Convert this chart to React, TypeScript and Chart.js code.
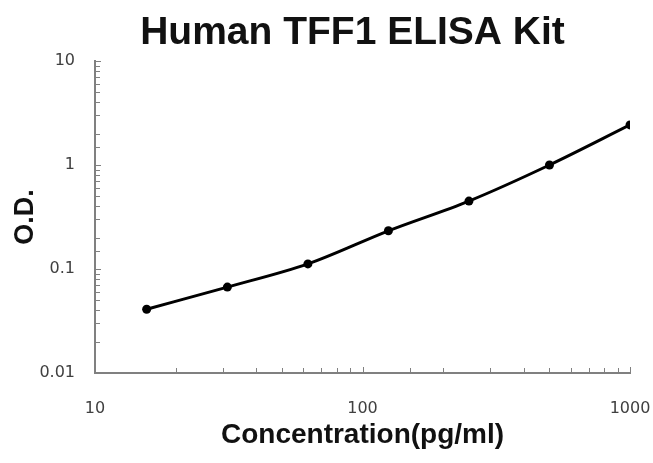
import { useEffect, useRef } from 'react';
import { Chart, registerables } from 'chart.js';

Chart.register(...registerables);

const concentrations = [15.6, 31.25, 62.5, 125, 250, 500, 1000];
const odValues = [0.041, 0.067, 0.112, 0.233, 0.45, 1.0, 2.43];
const xTickLabels = [10, 100, 1000];
const yTickLabels = [0.01, 0.1, 1, 10];
const titleText = 'Human TFF1 ELISA Kit';
const xTitle = 'Concentration(pg/ml)';
const yTitle = 'O.D.';

const isLabelled = (v: number, list: number[]) =>
  list.some((l) => Math.abs(v - l) / l < 1e-6);

const titlePlugin = {
  id: 'customTitle',
  afterDraw(chart: any) {
    const { ctx, chartArea } = chart;
    ctx.save();
    ctx.font = 'bold 39px "Liberation Sans", Arial, sans-serif';
    ctx.fillStyle = '#111';
    ctx.textAlign = 'center';
    ctx.textBaseline = 'middle';
    ctx.fillText(titleText, (chartArea.left + chartArea.right) / 2 - 10, 33);
    ctx.restore();
  },
};

const innerTicksPlugin = {
  id: 'innerTicks',
  afterDraw(chart: any) {
    const { ctx, chartArea } = chart;
    const xs = chart.scales.x;
    const ys = chart.scales.y;
    ctx.save();
    ctx.strokeStyle = '#808080';
    ctx.lineWidth = 1;
    xs.ticks.forEach((t: any) => {
      const px = Math.round(xs.getPixelForValue(t.value)) + 0.5;
      const len = isLabelled(t.value, xTickLabels) ? 6 : 5;
      ctx.beginPath();
      ctx.moveTo(px, chartArea.bottom);
      ctx.lineTo(px, chartArea.bottom - len);
      ctx.stroke();
    });
    ys.ticks.forEach((t: any) => {
      const py = Math.round(ys.getPixelForValue(t.value)) + 0.5;
      const len = isLabelled(t.value, yTickLabels) ? 6 : 5;
      ctx.beginPath();
      ctx.moveTo(chartArea.left, py);
      ctx.lineTo(chartArea.left + len, py);
      ctx.stroke();
    });
    ctx.restore();
  },
};

export default function App() {
  const canvasRef = useRef<HTMLCanvasElement>(null);

  useEffect(() => {
    document.body.style.margin = '0';
    const canvas = canvasRef.current;
    if (!canvas) return;
    const chart = new Chart(canvas, {
      type: 'line',
      data: {
        datasets: [
          {
            data: concentrations.map((c, i) => ({ x: c, y: odValues[i] })),
            borderColor: '#000',
            backgroundColor: '#000',
            borderWidth: 3,
            pointRadius: 4.5,
            pointBackgroundColor: '#000',
            pointBorderWidth: 0,
            cubicInterpolationMode: 'monotone',
            fill: false,
          },
        ],
      },
      options: {
        animation: false,
        responsive: false,
        maintainAspectRatio: false,
        layout: { padding: { top: 61, right: 23, bottom: 0, left: 0 } },
        plugins: {
          legend: { display: false },
          title: { display: false },
          tooltip: { enabled: false },
        },
        scales: {
          x: {
            type: 'logarithmic',
            min: 10,
            max: 1000,
            afterFit: (scale: any) => {
              scale.height = 90;
              scale.paddingLeft = 0;
              scale.paddingRight = 0;
            },
            grid: { display: true, drawOnChartArea: false, drawTicks: false },
            border: { display: true, color: '#808080', width: 2 },
            ticks: {
              autoSkip: false,
              maxRotation: 0,
              padding: 26,
              color: '#404040',
              font: { family: '"DejaVu Sans"', size: 16 },
              callback: (v: any) => {
                const n = Number(v);
                return isLabelled(n, xTickLabels) ? String(n) : '';
              },
            },
            title: {
              display: true,
              text: xTitle,
              color: '#111',
              font: { family: '"Liberation Sans", Arial', size: 28, weight: 'bold' },
              padding: { top: 0, bottom: 11 },
            },
          },
          y: {
            type: 'logarithmic',
            min: 0.01,
            max: 10,
            afterFit: (scale: any) => {
              scale.width = 95;
              scale.paddingTop = 0;
              scale.paddingBottom = 0;
            },
            grid: { display: true, drawOnChartArea: false, drawTicks: false },
            border: { display: true, color: '#808080', width: 2 },
            ticks: {
              autoSkip: false,
              padding: 20,
              color: '#404040',
              font: { family: '"DejaVu Sans"', size: 16 },
              callback: (v: any) => {
                const n = Number(v);
                return isLabelled(n, yTickLabels) ? String(n) : '';
              },
            },
            title: {
              display: true,
              text: yTitle,
              color: '#111',
              font: { family: '"Liberation Sans", Arial', size: 27, weight: 'bold' },
              padding: { top: 9, bottom: 0 },
            },
          },
        },
      },
      plugins: [titlePlugin, innerTicksPlugin],
    });
    return () => chart.destroy();
  }, []);

  return (
    <div style={{ width: 653, height: 463 }}>
      <canvas ref={canvasRef} width={653} height={463} style={{ display: 'block' }} />
    </div>
  );
}
